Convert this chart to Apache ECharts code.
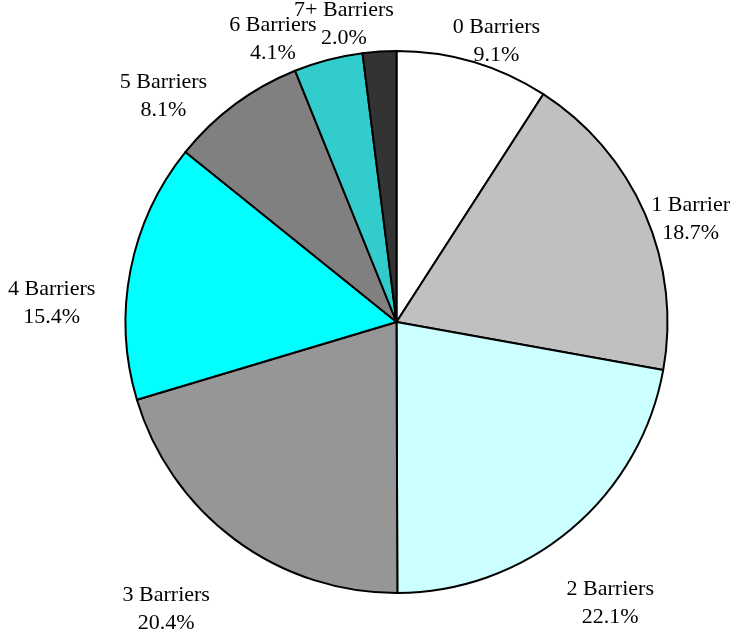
<!DOCTYPE html>
<html>
<head>
<meta charset="utf-8">
<script src="https://cdn.jsdelivr.net/npm/echarts@6/dist/echarts.min.js"></script>
<style>
    html, body {margin: 0; padding: 0; background: #fff;}
    #mycharts {width: 738px; height: 644px;}
</style>
</head>
<body>
<div id="mycharts"></div>
<script>
// data
const categories = ['0 Barriers', '1 Barrier', '2 Barriers', '3 Barriers', '4 Barriers', '5 Barriers', '6 Barriers', '7+ Barriers'];
const shares = [9.1, 18.7, 22.1, 20.4, 15.4, 8.1, 4.1, 2.0];
const sliceColors = ['#ffffff', '#c0c0c0', '#ccffff', '#969696', '#00ffff', '#808080', '#33cccc', '#333333'];

const CX = 396.5, CY = 322, R = 271;
const W = 738, EDGE = 8;
const total = shares.reduce((a, b) => a + b, 0);

// put each label outside its slice, box edge facing the pie
function placeLabel(params) {
    const i = params.dataIndex;
    let before = 0;
    for (let k = 0; k < i; k++) before += shares[k];
    let theta = (before + shares[i] / 2) / total * 2 * Math.PI;
    // right side labels turn a bit clockwise, upper-left ones further back
    const s0 = Math.sin(theta), c0 = Math.cos(theta);
    let shift;
    if (s0 > 0) shift = 4 * Math.min(1, 2 * s0);
    else shift = c0 > 0 ? -(5 + 3 * Math.min(1, -4 * s0)) : 1;
    theta += shift * Math.PI / 180;
    const s = Math.sin(theta), c = Math.cos(theta);
    const gap = 31 - 31 * c - 12 * s;
    const ax = CX + (R + gap) * s, ay = CY - (R + gap) * c;
    const w = params.labelRect.width, h = params.labelRect.height;
    let x = ax + s * w / 2;
    x = Math.max(EDGE + w / 2, Math.min(W - EDGE - w / 2, x));
    return {
        x: x,
        y: ay - c * h / 2,
        align: 'center',
        verticalAlign: 'middle'
    };
}

const chart = echarts.init(document.getElementById('mycharts'));
chart.setOption({
    animation: false,
    backgroundColor: '#fff',
    series: [{
        type: 'pie',
        center: [CX, CY],
        radius: R,
        startAngle: 90,
        clockwise: true,
        avoidLabelOverlap: false,
        data: categories.map((name, i) => ({
            name: name,
            value: shares[i],
            itemStyle: {color: sliceColors[i]}
        })),
        itemStyle: {borderColor: '#000', borderWidth: 2},
        label: {
            show: true,
            position: 'outside',
            formatter: p => p.name + '\n' + p.value.toFixed(1) + '%',
            fontFamily: 'Liberation Serif',
            fontSize: 22,
            lineHeight: 28,
            color: '#000',
            align: 'center'
        },
        labelLine: {show: false},
        labelLayout: placeLabel,
        emphasis: {disabled: true}
    }]
});
</script>
</body>
</html>
